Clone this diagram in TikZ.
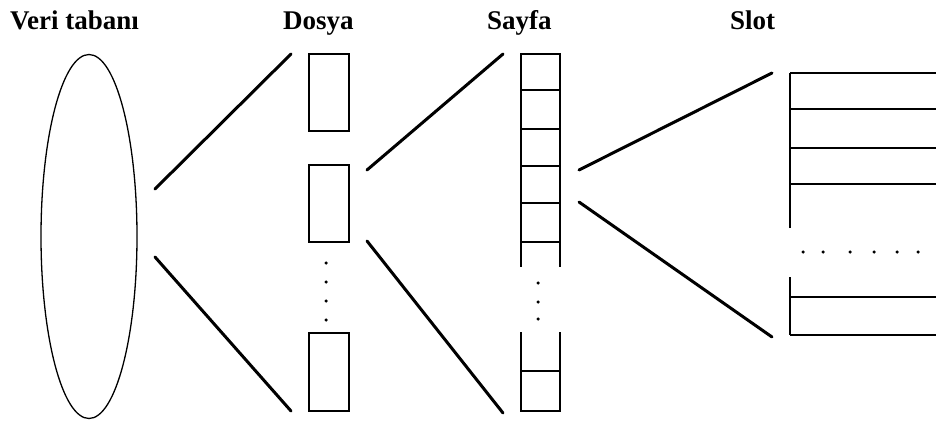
\documentclass[tikz,border=0pt]{standalone}
\usepackage{fontspec}
\setmainfont{Liberation Serif}
\usetikzlibrary{shapes.geometric}
\tikzset{
  lbl/.style={anchor=base west, inner sep=0, font=\fontsize{27}{32}\selectfont\bfseries},
  box/.style={draw, line width=1.8pt, minimum width=40pt, inner sep=0},
  conn/.style={line width=3pt, line cap=round},
  grid/.style={line width=2pt},
  slotl/.style={line width=2.4pt},
  dotm/.style={fill, circle, inner sep=0, minimum size=3.5pt}
}
\begin{document}
\begin{tikzpicture}[x=1pt,y=-1pt]
\useasboundingbox (0,0) rectangle (936,420);
% labels
\node[lbl] (tdb) at (10,30) {Veri tabanı};
\node[lbl] (tdo) at (283,30) {Dosya};
\node[lbl] (tsa) at (487,30) {Sayfa};
\node[lbl] (tsl) at (730,30) {Slot};
% database
\node[draw, ellipse, line width=1.3pt, minimum width=96pt, minimum height=364pt, inner sep=0] (db) at (89,236.5) {};
% files
\node[box, minimum height=77pt] (f1) at (329,92.5) {};
\node[box, minimum height=77pt] (f2) at (329,203.5) {};
\node[box, minimum height=78pt] (f3) at (329,372) {};
\foreach \y [count=\i] in {263,282,301,320} \node[dotm] (fd\i) at (326,\y) {};
% pages
\draw[grid] (521,242) -- (521,54) -- (560,54) -- (560,242);
\foreach \y in {90,129,166,203,242} \draw[grid] (521,\y) -- (560,\y);
\draw[grid] (521,242) -- (521,267);
\draw[grid] (560,242) -- (560,267);
\draw[grid] (521,332) -- (521,411) -- (560,411) -- (560,332);
\draw[grid] (521,371) -- (560,371);
\foreach \y [count=\i] in {283,302,319} \node[dotm] (pd\i) at (538,\y) {};
% slots
\draw[slotl] (790,228) -- (790,73);
\foreach \y in {73,109,148,184} \draw[slotl] (790,\y) -- (936,\y);
\draw[slotl] (790,277) -- (790,335);
\foreach \y in {297,335} \draw[slotl] (790,\y) -- (936,\y);
\foreach \x [count=\i] in {803,823,850,874,897,918} \node[dotm] (sd\i) at (\x,252) {};
% connector endpoints
\coordinate (a1) at (155,189); \coordinate (a2) at (291,54);
\coordinate (b1) at (155,257); \coordinate (b2) at (291,411);
\coordinate (c1) at (367,170); \coordinate (c2) at (503,54);
\coordinate (d1) at (367,241); \coordinate (d2) at (503,413);
\coordinate (e1) at (579,170); \coordinate (e2) at (772,73);
\coordinate (g1) at (579,202); \coordinate (g2) at (772,337);
\draw[conn] (a1) -- (a2);
\draw[conn] (b1) -- (b2);
\draw[conn] (c1) -- (c2);
\draw[conn] (d1) -- (d2);
\draw[conn] (e1) -- (e2);
\draw[conn] (g1) -- (g2);
\end{tikzpicture}
\end{document}
